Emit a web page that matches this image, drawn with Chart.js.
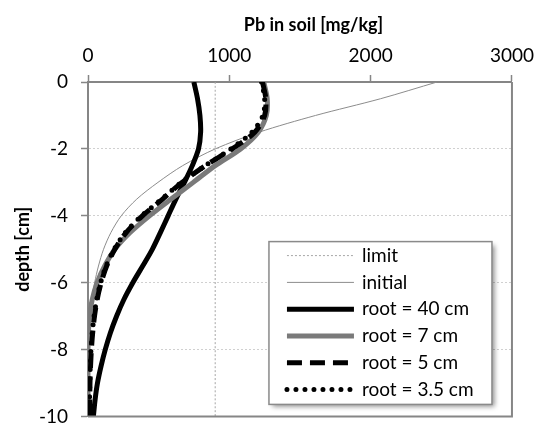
<!DOCTYPE html>
<html>
<head>
<meta charset="utf-8">
<script src="https://cdn.jsdelivr.net/npm/chart.js@4.4.1/dist/chart.umd.min.js"></script>
<style>
  html, body { margin: 0; padding: 0; background: #fff; }
  #wrap { width: 542px; height: 441px; }
</style>
</head>
<body>
<div id="wrap"><canvas id="chart" width="542" height="441"></canvas></div>
<script>
// depth profile, cm (shared by all model curves)
const depths = [0, -0.5, -1, -1.5, -2, -2.5, -3, -3.5, -4, -4.5, -5, -5.5, -6, -6.5, -7, -7.5, -8, -8.5, -9, -9.5, -10];

// Pb in soil, mg/kg
const initial  = [2470, 2070, 1610, 1210, 900, 670, 495, 345, 235, 162, 110, 74, 47, 27, 12, 4, 0, 0, 0, 0, 0];
const root40   = [749, 775, 792, 797, 782, 738, 682, 622, 567, 512, 455, 387, 317, 254, 202, 158, 122, 92, 67, 50, 38];
const root7    = [1244, 1268, 1262, 1205, 1080, 900, 745, 588, 435, 298, 190, 118, 64, 30, 11, 3, 0, 0, 0, 0, 0];
const root5    = [1235, 1258, 1250, 1180, 1020, 830, 665, 528, 385, 270, 190, 132, 93, 65, 46, 33, 24, 18, 14, 12, 10];
const root35   = [1228, 1250, 1238, 1160, 1010, 830, 660, 522, 380, 265, 185, 128, 89, 62, 43, 30, 21, 16, 13, 11, 9];

const limitX     = [900, 900];
const limitDepth = [0, -10];

const xTicks = [0, 1000, 2000, 3000];
const yTicks = [0, -2, -4, -6, -8, -10];

function pairs(xs, ys) {
    return xs.map((x, i) => ({ x: x, y: ys[i] }));
}

Chart.defaults.font.family = "Lato";
Chart.defaults.font.size = 19;
Chart.defaults.color = "#000";

// right and bottom edges of the plot box
const frame = {
    id: "frame",
    afterDatasetsDraw(chart) {
        const { ctx, chartArea: a } = chart;
        ctx.save();
        ctx.strokeStyle = "#868686";
        ctx.lineWidth = 2;
        ctx.beginPath();
        ctx.moveTo(a.left, a.bottom);
        ctx.lineTo(a.right, a.bottom);
        ctx.lineTo(a.right, a.top);
        ctx.stroke();
        ctx.restore();
    }
};

// legend box drawn inside the plot, bottom right
const legendBox = {
    id: "legendBox",
    afterDraw(chart) {
        const { ctx, chartArea: a } = chart;
        const sets = chart.data.datasets;
        const w = 223, rowH = 26.8;
        const h = sets.length * rowH + 2;
        const x = a.right - 243, y = a.bottom - 175;
        ctx.save();
        ctx.shadowColor = "rgba(0,0,0,0.45)";
        ctx.shadowBlur = 5;
        ctx.shadowOffsetX = 3;
        ctx.shadowOffsetY = 3;
        ctx.fillStyle = "#fff";
        ctx.fillRect(x, y, w, h);
        ctx.restore();
        ctx.save();
        ctx.strokeStyle = "#8a8a8a";
        ctx.lineWidth = 1.5;
        ctx.strokeRect(x, y, w, h);
        ctx.font = "19px Lato";
        ctx.textBaseline = "middle";
        ctx.fillStyle = "#000";
        sets.forEach((ds, i) => {
            const ly = y + 14 + i * rowH;
            ctx.save();
            ctx.strokeStyle = ds.borderColor;
            ctx.lineWidth = ds.borderWidth;
            ctx.setLineDash(ds.borderDash || []);
            ctx.lineCap = ds.borderCapStyle || "butt";
            ctx.beginPath();
            ctx.moveTo(x + 18, ly);
            ctx.lineTo(x + 85, ly);
            ctx.stroke();
            ctx.restore();
            ctx.fillText(ds.label, x + 93, ly);
        });
        ctx.restore();
    }
};

new Chart(document.getElementById("chart"), {
    type: "scatter",
    data: {
        datasets: [{
            label: "limit",
            data: pairs(limitX, limitDepth),
            borderColor: "#a6a6a6",
            borderWidth: 1,
            borderDash: [2, 2],
            order: 6
        }, {
            label: "initial",
            data: pairs(initial, depths),
            borderColor: "#8c8c8c",
            borderWidth: 1,
            order: 5
        }, {
            label: "root = 40 cm",
            data: pairs(root40, depths),
            borderColor: "#000",
            borderWidth: 5,
            order: 4
        }, {
            label: "root = 7 cm",
            data: pairs(root7, depths),
            borderColor: "#7a7a7a",
            borderWidth: 5,
            order: 3
        }, {
            label: "root = 5 cm",
            data: pairs(root5, depths),
            borderColor: "#000",
            borderWidth: 5,
            borderDash: [15, 8],
            order: 2
        }, {
            label: "root = 3.5 cm",
            data: pairs(root35, depths),
            borderColor: "#000",
            borderWidth: 5,
            borderDash: [0, 9],
            borderCapStyle: "round",
            order: 1
        }].map(ds => Object.assign({ showLine: true, pointRadius: 0, tension: 0.3, fill: false }, ds))
    },
    options: {
        responsive: false,
        animation: false,
        events: [],
        layout: { padding: { left: 0, top: 0, right: 24, bottom: 4 } },
        plugins: { legend: { display: false }, tooltip: { enabled: false } },
        scales: {
            x: {
                type: "linear",
                position: "top",
                min: 0,
                max: 3000,
                afterBuildTicks: s => { s.ticks = xTicks.map(v => ({ value: v })); },
                afterFit: s => { s.height = 82; },
                ticks: { padding: 8, callback: v => String(v) },
                grid: { drawOnChartArea: false, tickLength: 7, tickColor: "#868686", tickWidth: 1.5 },
                border: { color: "#868686", width: 2 },
                title: {
                    display: true,
                    text: "\u2003\u2003Pb in soil [mg/kg]",
                    font: { weight: "bold", size: 18 },
                    padding: { top: 14, bottom: 0 }
                }
            },
            y: {
                type: "linear",
                min: -10,
                max: 0,
                afterBuildTicks: s => { s.ticks = yTicks.map(v => ({ value: v })); },
                afterFit: s => { s.width = 88; },
                ticks: { padding: 13, callback: v => String(v) },
                grid: { color: "#d0d0d0", tickLength: 7, tickColor: "#868686", tickWidth: 1.5 },
                border: { color: "#868686", width: 2, dash: [2, 2] },
                title: {
                    display: true,
                    text: "depth [cm]",
                    font: { weight: "bold", size: 18 },
                    padding: { top: 12, bottom: 0 }
                }
            }
        }
    },
    plugins: [frame, legendBox]
});
</script>
</body>
</html>
